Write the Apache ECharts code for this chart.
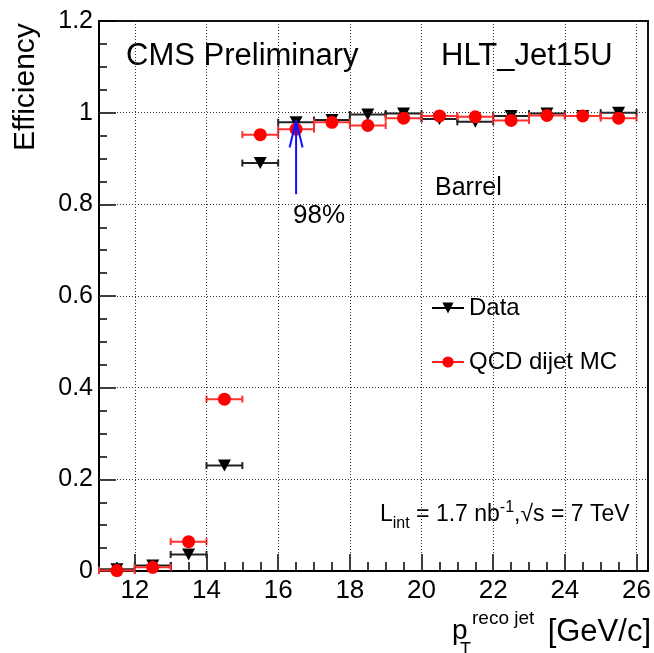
<!DOCTYPE html>
<html><head><meta charset="utf-8">
<script src="https://cdn.jsdelivr.net/npm/echarts@6/dist/echarts.min.js"></script>
<style>html,body{margin:0;padding:0;background:#fff}#c{width:654px;height:653px}</style>
</head><body><div id="c"></div>
<script>
// ---- data ----
const binCenters = [11.5, 12.5, 13.5, 14.5, 15.5, 16.5, 17.5, 18.5, 19.5, 20.5, 21.5, 22.5, 23.5, 24.5, 25.5];
const binHalfWidth = 0.5;
const dataEff = [0.004, 0.012, 0.036, 0.230, 0.890, 0.979, 0.984, 0.996, 0.998, 0.986, 0.980, 0.993, 0.998, 0.993, 1.000];
const mcEff   = [0.001, 0.008, 0.064, 0.375, 0.952, 0.964, 0.979, 0.972, 0.988, 0.993, 0.991, 0.983, 0.994, 0.993, 0.988];
const xMajorTicks = [12, 14, 16, 18, 20, 22, 24, 26];
const yGridTicks = [0.2, 0.4, 0.6, 0.8, 1.0];
const arrowX = 16.5, arrowFrom = 0.822, arrowTo = 0.983;
const arrowLabel = '98%';
const seriesNames = ['Data', 'QCD dijet MC'];

const FONT = '"Liberation Sans", Arial, Helvetica, sans-serif';
const chart = echarts.init(document.getElementById('c'), null, {renderer: 'canvas'});

function pairs(ys) { return binCenters.map((x, i) => [x, ys[i]]); }

function errRender(color, width) {
  return function (params, api) {
    const x = api.value(0), y = api.value(1);
    const a = api.coord([x - binHalfWidth, y]);
    const b = api.coord([x + binHalfWidth, y]);
    const cap = 3.5;
    const st = {stroke: color, lineWidth: width};
    return {type: 'group', children: [
      {type: 'line', shape: {x1: a[0], y1: a[1], x2: b[0], y2: b[1]}, style: st},
      {type: 'line', shape: {x1: a[0], y1: a[1] - cap, x2: a[0], y2: a[1] + cap}, style: st},
      {type: 'line', shape: {x1: b[0], y1: b[1] - cap, x2: b[0], y2: b[1] + cap}, style: st}
    ]};
  };
}

function arrowRender(params, api) {
  const x = api.value(0);
  const p0 = api.coord([x, api.value(1)]);
  const p1 = api.coord([x, api.value(2)]);
  const st = {stroke: '#1010ff', lineWidth: 2};
  return {type: 'group', children: [
    {type: 'line', shape: {x1: p0[0], y1: p0[1], x2: p1[0], y2: p1[1]}, style: st},
    {type: 'line', shape: {x1: p1[0], y1: p1[1], x2: p1[0] - 6.5, y2: p1[1] + 27}, style: st},
    {type: 'line', shape: {x1: p1[0], y1: p1[1], x2: p1[0] + 6.5, y2: p1[1] + 27}, style: st},
    {type: 'text', x: p0[0] - 3, y: p0[1] + 22, style: {text: arrowLabel, font: '26px ' + FONT, fill: '#000', align: 'left', verticalAlign: 'middle'}}
  ]};
}

const option = {
  animation: false,
  backgroundColor: '#fff',
  grid: {left: 99, right: 6, top: 21, bottom: 82, show: true, borderColor: '#111', borderWidth: 2, backgroundColor: 'transparent'},
  xAxis: [
    {type: 'value', min: 11, max: 26.32, interval: 0.5, position: 'bottom',
     axisLine: {show: true, onZero: false, lineStyle: {color: '#000', width: 2}},
     axisTick: {show: true, inside: true, length: 9, lineStyle: {color: '#000', width: 1.5}},
     axisLabel: {show: false}, splitLine: {show: false}},
    {type: 'value', min: 11, max: 26.32, position: 'bottom',
     axisLine: {show: false, onZero: false},
     axisTick: {show: true, inside: true, length: 17, customValues: xMajorTicks, lineStyle: {color: '#000', width: 1.5}},
     axisLabel: {show: true, customValues: xMajorTicks, fontSize: 26, fontFamily: FONT, color: '#000', margin: 7},
     splitLine: {show: false}}
  ],
  yAxis: [
    {type: 'value', min: 0, max: 1.2, interval: 0.2,
     axisLine: {show: true, onZero: false, lineStyle: {color: '#000', width: 2}},
     axisTick: {show: true, inside: true, length: 17, lineStyle: {color: '#000', width: 1.5}},
     minorTick: {show: true, splitNumber: 4, length: 8, lineStyle: {color: '#000', width: 1.5}},
     axisLabel: {fontSize: 25, fontFamily: FONT, color: '#000', margin: 6},
     splitLine: {show: false}}
  ],
  legend: {
    data: [
      {name: seriesNames[0], lineStyle: {width: 2, color: '#000', opacity: 1}},
      {name: seriesNames[1], lineStyle: {width: 2, color: '#ff2020', opacity: 1}}
    ],
    orient: 'vertical', left: 431, top: 296, padding: 0, itemWidth: 32, itemHeight: 14, itemGap: 30,
    textStyle: {fontSize: 24, fontFamily: FONT, color: '#000'},
    selectedMode: false
  },
  graphic: [
    {type: 'text', x: 126, y: 56, style: {text: 'CMS Preliminary', font: '31px ' + FONT, fill: '#000', align: 'left', verticalAlign: 'middle'}},
    {type: 'text', x: 441, y: 56, style: {text: 'HLT_Jet15U', font: '31px ' + FONT, fill: '#000', align: 'left', verticalAlign: 'middle'}},
    {type: 'text', x: 435, y: 188, style: {text: 'Barrel', font: '25px ' + FONT, fill: '#000', align: 'left', verticalAlign: 'middle'}},
    {type: 'text', x: 380, y: 513, style: {
      text: '{m|L}{s|int}{m| = 1.7 nb}{p|-1}{m|,√s = 7 TeV}',
      align: 'left', verticalAlign: 'middle', fill: '#000',
      rich: {
        m: {fontSize: 23, fontFamily: FONT, color: '#000', verticalAlign: 'bottom', lineHeight: 26},
        s: {fontSize: 16, fontFamily: FONT, color: '#000', verticalAlign: 'bottom', lineHeight: 18, padding: [0, 0, -6, 0]},
        p: {fontSize: 16, fontFamily: FONT, color: '#000', verticalAlign: 'top', lineHeight: 16}
      }}},
    {type: 'text', x: 26, y: 151, rotation: Math.PI / 2, style: {text: 'Efficiency', font: '30px ' + FONT, fill: '#000', align: 'left', verticalAlign: 'middle'}},
    {type: 'text', x: 452, y: 631, style: {text: 'p', font: '28px ' + FONT, fill: '#000', align: 'left', verticalAlign: 'middle'}},
    {type: 'text', x: 460, y: 650, style: {text: 'T', font: '18px ' + FONT, fill: '#000', align: 'left', verticalAlign: 'middle'}},
    {type: 'text', x: 472, y: 619, style: {text: 'reco jet', font: '19px ' + FONT, fill: '#000', align: 'left', verticalAlign: 'middle'}},
    {type: 'text', x: 651, y: 632, style: {text: '[GeV/c]', font: '31px ' + FONT, fill: '#000', align: 'right', verticalAlign: 'middle'}}
  ],
  series: [
    {name: 'grid', type: 'line', xAxisIndex: 0, yAxisIndex: 0, data: [], z: 1,
     markLine: {silent: true, symbol: ['none', 'none'], label: {show: false}, animation: false,
       lineStyle: {type: [1, 2], color: '#333', width: 1},
       data: xMajorTicks.map(v => ({xAxis: v})).concat(yGridTicks.map(v => ({yAxis: v})))}},
    {name: 'dataErr', type: 'custom', xAxisIndex: 0, yAxisIndex: 0, data: pairs(dataEff), renderItem: errRender('#222', 2), z: 2},
    {name: seriesNames[0], type: 'line', xAxisIndex: 0, yAxisIndex: 0, data: pairs(dataEff),
     symbol: 'triangle', symbolRotate: 180, symbolSize: [13, 12], showSymbol: true,
     itemStyle: {color: '#000'}, lineStyle: {width: 0, opacity: 0, color: '#000'}, z: 3},
    {name: 'mcErr', type: 'custom', xAxisIndex: 0, yAxisIndex: 0, data: pairs(mcEff), renderItem: errRender('#ff3030', 2), z: 4},
    {name: seriesNames[1], type: 'line', xAxisIndex: 0, yAxisIndex: 0, data: pairs(mcEff),
     symbol: 'circle', symbolSize: 13, showSymbol: true,
     itemStyle: {color: '#ff0000'}, lineStyle: {width: 0, opacity: 0, color: '#ff0000'}, z: 5},
    {name: 'arrow', type: 'custom', xAxisIndex: 0, yAxisIndex: 0, data: [[arrowX, arrowFrom, arrowTo]], renderItem: arrowRender, z: 6}
  ]
};
chart.setOption(option);
</script></body></html>
